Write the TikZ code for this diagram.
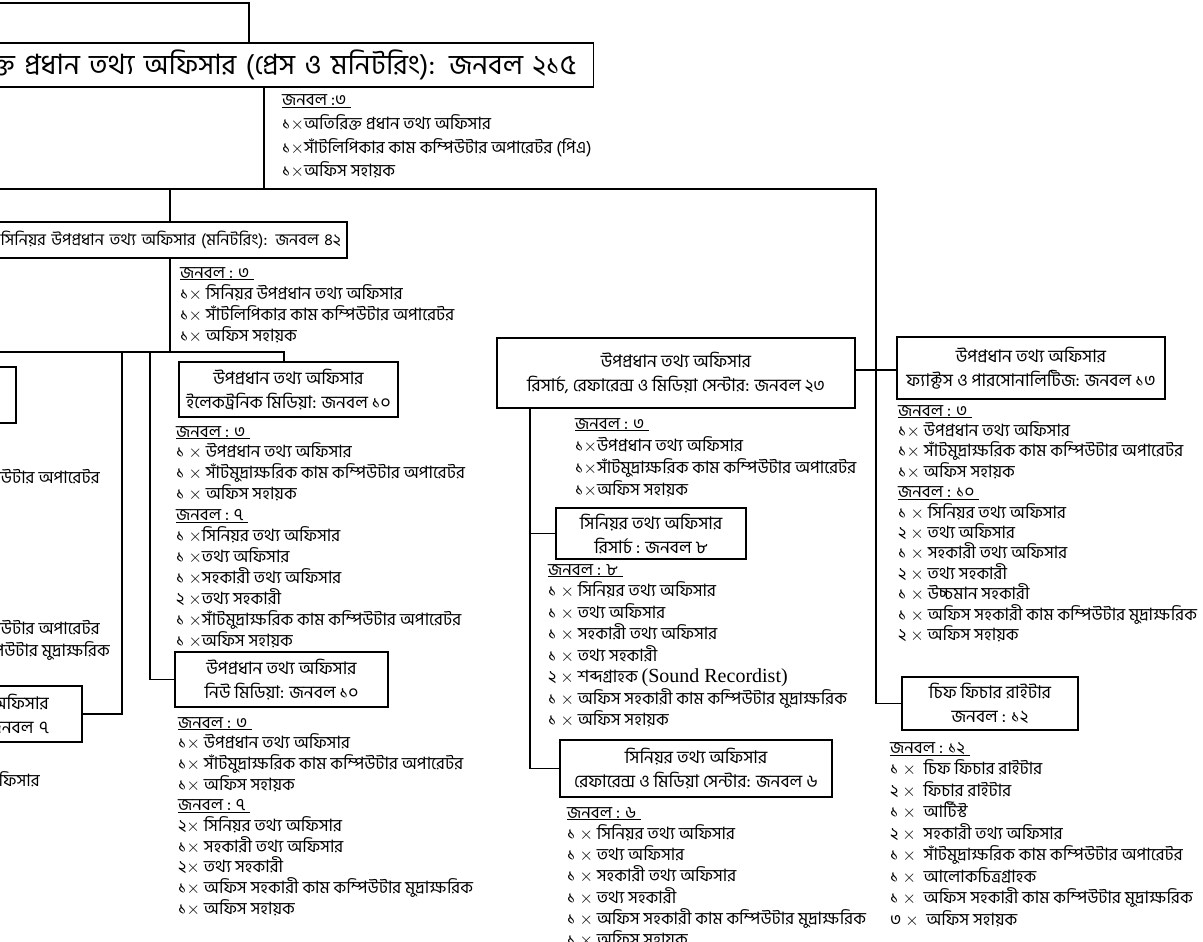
\documentclass[tikz,border=0pt]{standalone}
\usepackage{fontspec}
\setmainfont[Script=Bengali]{Hind Siliguri}
\newfontfamily\lserif{Liberation Serif}
\newcommand\X{\mbox{$\times$}}
\newcommand\ul[1]{\underline{#1\hspace{5pt}}}
\tikzset{
  conn/.style={line width=1.8pt, line join=miter},
  bx/.style={draw, line width=2.2pt, inner sep=0pt, align=center,
    font=\fontsize{17.5}{24}\selectfont},
  lst/.style={inner sep=0pt, font=\fontsize{17}{20}\selectfont},
}
\newcommand\blk[5]{%
  \foreach \itm [count=\i from 0] in {#5} {
    \node[lst, anchor=base west] (#1-\i) at (#2, {#3+\i*#4}) {\itm};
  }}
\begin{document}
\begin{tikzpicture}[x=1pt,y=-1pt]
\useasboundingbox (0,0) rectangle (1203,942);
\begin{scope}
\clip (0,0) rectangle (1203,942);
% ---- boxes
\node[bx, line width=1.4pt, anchor=east, text width=880pt, align=right, inner xsep=17pt,
  minimum height=44pt, font=\fontsize{28}{30}\selectfont] (title) at (594,65)
  {অতিরিক্ত প্রধান তথ্য অফিসার (প্রেস ও মনিটরিং): জনবল ২১৫};
\node[bx, anchor=east, text width=420pt, align=right, inner xsep=6pt,
  minimum height=36pt, font=\fontsize{16.4}{20}\selectfont] (mon) at (348,240)
  {সিনিয়র উপপ্রধান তথ্য অফিসার (মনিটরিং): জনবল ৪২};
\node[bx, anchor=east, minimum width=200pt, minimum height=56pt] (lboxa) at (17,395) {};
\node[bx, anchor=east, text width=200pt, align=right, inner xsep=33pt,
  minimum height=56pt] (lboxb) at (83,714) {অফিসার\\জনবল ৭};
\node[bx, minimum width=219pt, minimum height=55pt] (elec) at (288.5,389.5)
  {উপপ্রধান তথ্য অফিসার\\ইলেকট্রনিক মিডিয়া: জনবল ১০};
\node[bx, minimum width=213pt, minimum height=55pt] (nm) at (281.5,679.5)
  {উপপ্রধান তথ্য অফিসার\\নিউ মিডিয়া: জনবল ১০};
\node[bx, minimum width=358pt, minimum height=70pt] (res) at (676,373)
  {উপপ্রধান তথ্য অফিসার\\রিসার্চ, রেফারেন্স ও মিডিয়া সেন্টার: জনবল ২৩};
\node[bx, minimum width=190pt, minimum height=51pt] (sr) at (651,533.5)
  {সিনিয়র তথ্য অফিসার\\রিসার্চ : জনবল ৮};
\node[bx, minimum width=272pt, minimum height=57pt] (sref) at (696,768.5)
  {সিনিয়র তথ্য অফিসার\\রেফারেন্স ও মিডিয়া সেন্টার: জনবল ৬};
\node[bx, minimum width=268pt, minimum height=62pt] (facts) at (1031,368)
  {উপপ্রধান তথ্য অফিসার\\ফ্যাক্টস ও পারসোনালিটিজ: জনবল ১৩};
\node[bx, minimum width=176pt, minimum height=53pt] (chief) at (990,703.5)
  {চিফ ফিচার রাইটার\\জনবল : ১২};
% ---- junction coordinates
\coordinate (topa) at (0,3);
\coordinate (topb) at (249,3);
\coordinate (ha) at (0,189);
\coordinate (hb) at (876,189);
\coordinate (tj) at (264,189);
\coordinate (mj) at (170,189);
\coordinate (hc) at (0,352);
\coordinate (hd) at (284,352);
\coordinate (va) at (122,352);
\coordinate (vb) at (150,352);
\coordinate (mk) at (170,352);
\coordinate (rv) at (530,0);
\coordinate (stub) at (876,370);
% ---- connectors
\draw[conn] (topa) -- (topb) -- (topb |- title.north);
\draw[conn] (title.south -| tj) -- (tj);
\draw[conn] (ha) -- (hb) |- (chief.west);
\draw[conn] (mj) -- (mon.north -| mj);
\draw[conn] (mon.south -| mk) -- (mk);
\draw[conn] (hc) -- (hd) -- (elec.north -| hd);
\draw[conn] (va) |- (lboxb.east);
\draw[conn] (vb) |- (nm.west);
\draw[conn] (res.south -| rv) |- (sref.west);
\draw[conn] (sr.west) -- (sr.west -| rv);
\draw[conn] (res.east |- stub) -- (facts.west |- stub);
% ---- lists
\blk{ti}{282}{106}{23.5}{\ul{জনবল :৩},১\X অতিরিক্ত প্রধান তথ্য অফিসার,১\X সাঁটলিপিকার কাম কম্পিউটার অপারেটর (পিএ),১\X অফিস সহায়ক}
\blk{mi}{180}{278}{21}{\ul{জনবল : ৩},১\X\ সিনিয়র উপপ্রধান তথ্য অফিসার,১\X\ সাঁটলিপিকার কাম কম্পিউটার অপারেটর,১\X\ অফিস সহায়ক}
\blk{ei}{176}{437}{20.9}{\ul{জনবল : ৩},১ \X\ উপপ্রধান তথ্য অফিসার,১ \X\ সাঁটমুদ্রাক্ষরিক কাম কম্পিউটার অপারেটর,১ \X\ অফিস সহায়ক,\ul{জনবল : ৭},১ \X সিনিয়র তথ্য অফিসার,১ \X তথ্য অফিসার,১ \X সহকারী তথ্য অফিসার,২ \X তথ্য সহকারী,১ \X সাঁটমুদ্রাক্ষরিক কাম কম্পিউটার অপারেটর,১ \X অফিস সহায়ক}
\blk{ni}{178}{728}{20.7}{\ul{জনবল : ৩},১\X\ উপপ্রধান তথ্য অফিসার,১\X\ সাঁটমুদ্রাক্ষরিক কাম কম্পিউটার অপারেটর,১\X\ অফিস সহায়ক,\ul{জনবল : ৭},২\X\ সিনিয়র তথ্য অফিসার,১\X\ সহকারী তথ্য অফিসার,২\X\ তথ্য সহকারী,১\X\ অফিস সহকারী কাম কম্পিউটার মুদ্রাক্ষরিক,১\X\ অফিস সহায়ক}
\blk{ri}{575}{429}{22}{\ul{জনবল : ৩},১\X উপপ্রধান তথ্য অফিসার,১\X সাঁটমুদ্রাক্ষরিক কাম কম্পিউটার অপারেটর,১\X অফিস সহায়ক}
\blk{si}{548}{575}{21.5}{\ul{জনবল : ৮},১ \X\ সিনিয়র তথ্য অফিসার,১ \X\ তথ্য অফিসার,১ \X\ সহকারী তথ্য অফিসার,১ \X\ তথ্য সহকারী,২ \X\ শব্দগ্রাহক {\lserif\fontsize{20}{20}\selectfont(Sound Recordist)},১ \X\ অফিস সহকারী কাম কম্পিউটার মুদ্রাক্ষরিক,১ \X\ অফিস সহায়ক}
\blk{fi}{567}{818}{21.3}{\ul{জনবল : ৬},১ \X\ সিনিয়র তথ্য অফিসার,১ \X\ তথ্য অফিসার,১ \X\ সহকারী তথ্য অফিসার,১ \X\ তথ্য সহকারী,১ \X\ অফিস সহকারী কাম কম্পিউটার মুদ্রাক্ষরিক,১ \X\ অফিস সহায়ক}
\blk{ki}{898}{416}{20.4}{\ul{জনবল : ৩},১\X\ উপপ্রধান তথ্য অফিসার,১\X\ সাঁটমুদ্রাক্ষরিক কাম কম্পিউটার অপারেটর,১\X\ অফিস সহায়ক,\ul{জনবল : ১০},১ \X\ সিনিয়র তথ্য অফিসার,২ \X\ তথ্য অফিসার,১ \X\ সহকারী তথ্য অফিসার,২ \X\ তথ্য সহকারী,১ \X\ উচ্চমান সহকারী,১ \X\ অফিস সহকারী কাম কম্পিউটার মুদ্রাক্ষরিক,২ \X\ অফিস সহায়ক}
\blk{ci}{890}{753}{21.5}{\ul{জনবল : ১২},১ \X\ \ চিফ ফিচার রাইটার,২ \X\ \ ফিচার রাইটার,১ \X\ \ আর্টিস্ট,২ \X\ \ সহকারী তথ্য অফিসার,১ \X\ \ সাঁটমুদ্রাক্ষরিক কাম কম্পিউটার অপারেটর,১ \X\ \ আলোকচিত্রগ্রাহক,১ \X\ \ অফিস সহকারী কাম কম্পিউটার মুদ্রাক্ষরিক,৩ \X\ \ অফিস সহায়ক}
% ---- cut texts at left edge
\node[lst, anchor=base east] (la) at (100,483) {১\X\ সাঁটমুদ্রাক্ষরিক কাম কম্পিউটার অপারেটর};
\node[lst, anchor=base east] (lb) at (100,634) {১\X\ সাঁটমুদ্রাক্ষরিক কাম কম্পিউটার অপারেটর};
\node[lst, anchor=base east] (lc) at (110,656) {১\X\ অফিস সহকারী কাম কম্পিউটার মুদ্রাক্ষরিক};
\node[lst, anchor=base east] (ld) at (40,786) {১\X\ সহকারী তথ্য অফিসার};
\end{scope}
\end{tikzpicture}
\end{document}
